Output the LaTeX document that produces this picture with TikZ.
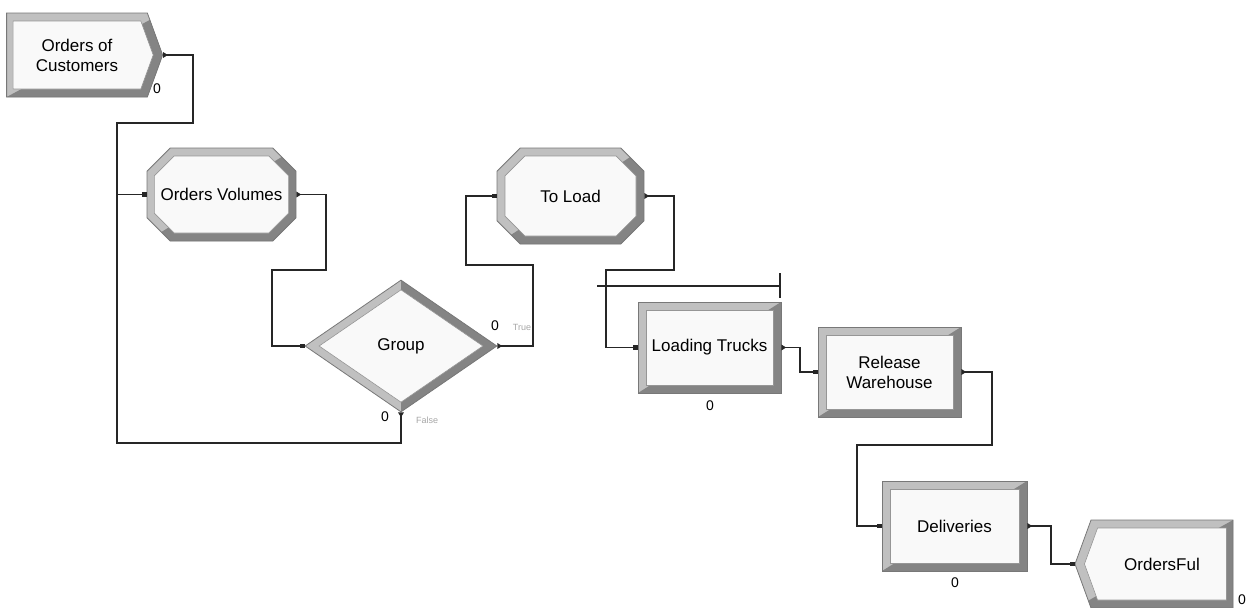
\documentclass[tikz,border=0pt]{standalone}
\usepackage{fontspec}
\setmainfont{Liberation Sans}
\usetikzlibrary{arrows.meta, shapes.geometric, shapes.misc, shapes.symbols}

\definecolor{bevellight}{RGB}{192,192,192}
\definecolor{beveldark}{RGB}{132,132,132}
\definecolor{edgegray}{RGB}{120,120,120}
\definecolor{facewhite}{RGB}{249,249,249}
\definecolor{innergray}{RGB}{150,150,150}

\begin{document}
\begin{tikzpicture}[
  x = 0.5pt, y = -0.5pt,
  modtext/.style={inner sep=0pt, align=center, font=\fontsize{8.5}{10}\selectfont},
  frame/.style={modtext, draw=edgegray, fill=bevellight, line width=0.4pt, text opacity=0,
    path picture={
      \fill[beveldark] (path picture bounding box.north east) -- (path picture bounding box.south east)
        -- (path picture bounding box.south west) -- cycle;}},
  face/.style={modtext, fill=facewhite, draw=innergray, line width=0.3pt},
  process/.style 2 args={frame, rectangle, minimum width=#1, minimum height=#2},
  processin/.style 2 args={face, rectangle, minimum width=#1-8pt, minimum height=#2-8pt},
  station/.style 2 args={frame, chamfered rectangle, chamfered rectangle sep=8.5pt,
    minimum width=#1, minimum height=#2},
  stationin/.style 2 args={face, chamfered rectangle, chamfered rectangle sep=6.8pt,
    minimum width=#1-8pt, minimum height=#2-8pt},
  decide/.style 2 args={frame, diamond, minimum width=#1, minimum height=#2,
    path picture={
      \fill[beveldark] (path picture bounding box.north) -- (path picture bounding box.north east)
        -- (path picture bounding box.south east) -- (path picture bounding box.south) -- cycle;}},
  decidein/.style 2 args={face, diamond, minimum width=#1-14pt, minimum height=#2-9.7pt},
  terminal/.style n args={3}{frame, signal, signal to=#1, signal pointer angle=140,
    minimum width=#2, minimum height=#3},
  terminalin/.style n args={3}{face, signal, signal to=#1, signal pointer angle=140,
    minimum width=#2-8pt, minimum height=#3-8pt},
  conn/.style={draw=black!85, line width=0.6pt,
    arrows={Triangle[reversed,length=2.4pt,width=2.8pt]-Square[length=2.2pt,width=2.2pt]}},
  counter/.style={font=\fontsize{7}{7}\selectfont, inner sep=0pt},
  branch/.style={font=\fontsize{4.5}{5}\selectfont, text=gray!70, inner sep=0pt},
  queue/.style={draw=black!85, line width=0.6pt}
]
\useasboundingbox (0,0) rectangle (1252,607);

%modules: bevel frame + face with the text
\node[terminal={east}{78pt}{42pt}] (create) at (77,55) {Orders of\\Customers};
\node[terminalin={east}{78pt}{42pt}] (create-in) at (create.center) {Orders of\\Customers};
\node[station={74.5pt}{46.5pt}] (volumes) at (221.5,194.5) {Orders Volumes};
\node[stationin={74.5pt}{46.5pt}] (volumes-in) at (volumes.center) {Orders Volumes};
\node[decide={96pt}{66pt}] (group) at (401,346) {Group};
\node[decidein={96pt}{66pt}] (group-in) at (group.center) {Group};
\node[station={73.5pt}{48pt}] (toload) at (570.5,196) {To Load};
\node[stationin={73.5pt}{48pt}] (toload-in) at (toload.center) {To Load};
\node[process={71.5pt}{45.5pt}] (trucks) at (709.5,347.5) {Loading Trucks};
\node[processin={71.5pt}{45.5pt}] (trucks-in) at (trucks.center) {Loading Trucks};
\node[process={71.5pt}{45pt}] (release) at (889.5,372) {Release\\Warehouse};
\node[processin={71.5pt}{45pt}] (release-in) at (release.center) {Release\\Warehouse};
\node[process={72.5pt}{45pt}] (deliveries) at (954.5,526) {Deliveries};
\node[processin={72.5pt}{45pt}] (deliveries-in) at (deliveries.center) {Deliveries};
\node[terminal={west}{79pt}{44pt}] (ordersful) at (1162,564) {OrdersFul};
\node[terminalin={west}{79pt}{44pt}] (ordersful-in) at (ordersful.center) {OrdersFul};

%counters and branch labels
\node[counter] (cntcreate) at (157,89) {0};
\node[counter] (cnttrue) at (495,326) {0};
\node[counter] (cntfalse) at (385,417) {0};
\node[counter] (cnttrucks) at (710,406) {0};
\node[counter] (cntdeliv) at (955,583) {0};
\node[counter] (cntful) at (1242,600) {0};
\node[branch] (lbltrue) at (522,327) {True};
\node[branch] (lblfalse) at (427,420) {False};

%queue of the trucks
\draw[queue] (597,286) -- (780,286);
\draw[queue] (780,273) -- (780,298);

%connectors
\draw[conn] (create.east) -| (193,123) -| (117,160) |- (volumes.west);
\draw[conn] (group.south) |- (117,443) |- (volumes.west);
\draw[conn] (volumes.east) -| (326,270) -| (272,346) -- (group.west);
\draw[conn] (group.east) -| (533,265) -| (466,196) -- (toload.west);
\draw[conn] (toload.east) -| (674,270) -| (606,347.5) -- (trucks.west);
\draw[conn] (trucks.east) -| (800,372) -- (release.west);
\draw[conn] (release.east) -| (992,445) -| (857,526) -- (deliveries.west);
\draw[conn] (deliveries.east) -| (1051,564) -- (ordersful.west);

\end{tikzpicture}
\end{document}
